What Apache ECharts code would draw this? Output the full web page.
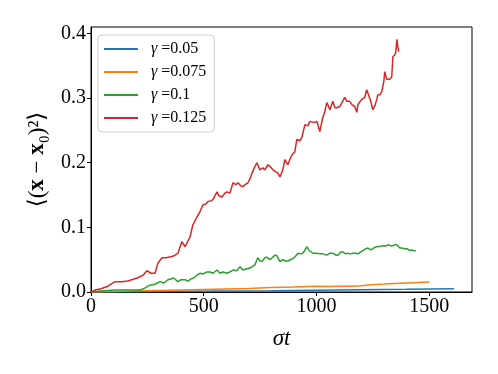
<!DOCTYPE html>
<html><head><meta charset="utf-8">
<script src="https://cdn.jsdelivr.net/npm/echarts@6/dist/echarts.min.js"></script>
<style>html,body{margin:0;padding:0;background:#fff}#c{width:498px;height:374px}</style>
</head><body><div id="c"></div>
<script>
const gammaLabels = ['0.05', '0.075', '0.1', '0.125'];
const colors = ['#1f77b4', '#ff7f0e', '#2ca02c', '#d62728'];
const xTicks = [0, 500, 1000, 1500];
const yTicks = [0, 0.1, 0.2, 0.3, 0.4];

const blueX = [0, 200, 400, 600, 800, 1000, 1200, 1400, 1610];
const blueY = [0, 0.0005, 0.001, 0.0015, 0.002, 0.0028, 0.0035, 0.0042, 0.005];

const orangeX = [0, 100, 200, 300, 400, 500, 600, 700, 800, 900, 1000, 1050, 1100, 1150, 1200, 1230, 1300, 1400, 1500];
const orangeY = [0, 0.0008, 0.0018, 0.0025, 0.0032, 0.004, 0.0048, 0.0056, 0.0068, 0.0078, 0.009, 0.0087, 0.009, 0.0089, 0.0095, 0.011, 0.0122, 0.014, 0.0155];

const greenX = [0, 40, 106, 173, 217, 239, 253, 266, 284, 306, 324, 341, 355, 364, 372, 386, 399, 417, 430, 443, 457, 470, 483, 497, 514, 528, 541, 559, 572, 585, 603, 616, 630, 647, 661, 674, 692, 705, 718, 727, 740, 749, 758, 771, 780, 794, 802, 816, 825, 838, 851, 860, 873, 891, 904, 918, 931, 940, 949, 958, 966, 971, 984, 1002, 1015, 1028, 1046, 1060, 1073, 1086, 1095, 1108, 1117, 1130, 1139, 1152, 1161, 1175, 1184, 1197, 1206, 1219, 1228, 1241, 1250, 1263, 1272, 1286, 1294, 1308, 1317, 1325, 1334, 1348, 1357, 1370, 1379, 1392, 1401, 1414, 1423, 1432, 1441];
const greenY = [0, 0.0015, 0.003, 0.003, 0.003, 0.006, 0.009, 0.011, 0.012, 0.016, 0.014, 0.019, 0.020, 0.022, 0.019, 0.016, 0.019, 0.019, 0.017, 0.020, 0.022, 0.026, 0.029, 0.028, 0.031, 0.031, 0.029, 0.034, 0.029, 0.031, 0.029, 0.031, 0.034, 0.033, 0.039, 0.034, 0.036, 0.037, 0.040, 0.042, 0.053, 0.048, 0.047, 0.053, 0.054, 0.050, 0.048, 0.057, 0.056, 0.047, 0.050, 0.048, 0.048, 0.051, 0.054, 0.060, 0.059, 0.060, 0.065, 0.070, 0.065, 0.062, 0.060, 0.060, 0.059, 0.059, 0.057, 0.060, 0.060, 0.057, 0.057, 0.062, 0.062, 0.059, 0.060, 0.059, 0.060, 0.060, 0.059, 0.062, 0.064, 0.067, 0.068, 0.065, 0.067, 0.070, 0.070, 0.071, 0.073, 0.071, 0.073, 0.070, 0.071, 0.073, 0.073, 0.068, 0.068, 0.067, 0.067, 0.064, 0.065, 0.064, 0.064];

const redX = [0, 18, 44, 75, 106, 137, 164, 191, 208, 231, 248, 266, 284, 297, 315, 332, 350, 368, 386, 403, 417, 439, 452, 470, 483, 497, 510, 519, 532, 541, 559, 567, 581, 594, 603, 616, 630, 643, 652, 665, 674, 687, 696, 705, 714, 727, 736, 749, 762, 771, 785, 794, 807, 820, 829, 838, 851, 860, 873, 882, 891, 904, 913, 926, 935, 949, 962, 971, 989, 1002, 1015, 1028, 1037, 1046, 1060, 1073, 1082, 1091, 1104, 1113, 1126, 1135, 1148, 1157, 1170, 1179, 1184, 1192, 1201, 1214, 1223, 1232, 1241, 1250, 1259, 1268, 1272, 1281, 1290, 1299, 1303, 1312, 1317, 1325, 1334, 1339, 1348, 1352, 1357, 1361, 1365];
const redY = [0, 0.003, 0.005, 0.009, 0.016, 0.016, 0.017, 0.020, 0.022, 0.026, 0.033, 0.029, 0.029, 0.045, 0.053, 0.053, 0.054, 0.056, 0.060, 0.078, 0.070, 0.085, 0.104, 0.116, 0.124, 0.135, 0.136, 0.140, 0.141, 0.143, 0.155, 0.149, 0.147, 0.153, 0.155, 0.153, 0.169, 0.166, 0.169, 0.164, 0.163, 0.167, 0.169, 0.175, 0.184, 0.194, 0.200, 0.189, 0.192, 0.189, 0.197, 0.194, 0.189, 0.186, 0.184, 0.178, 0.189, 0.205, 0.197, 0.205, 0.212, 0.217, 0.236, 0.234, 0.239, 0.259, 0.257, 0.264, 0.262, 0.264, 0.248, 0.270, 0.279, 0.293, 0.282, 0.295, 0.285, 0.285, 0.287, 0.293, 0.301, 0.295, 0.295, 0.290, 0.287, 0.278, 0.290, 0.287, 0.298, 0.301, 0.313, 0.304, 0.295, 0.282, 0.288, 0.298, 0.305, 0.305, 0.310, 0.326, 0.341, 0.329, 0.326, 0.329, 0.333, 0.364, 0.367, 0.371, 0.391, 0.380, 0.372];

const seriesX = [blueX, orangeX, greenX, redX];
const seriesY = [blueY, orangeY, greenY, redY];

const FF = '"Liberation Serif", "DejaVu Serif", serif';
const chart = echarts.init(document.getElementById('c'), null, {renderer: 'canvas'});
const option = {
  animation: false,
  backgroundColor: '#fff',
  grid: {left: 91, right: 26, top: 27, bottom: 82, show: true, borderColor: '#000', borderWidth: 1, backgroundColor: 'transparent'},
  legend: {
    orient: 'vertical', left: 98, top: 35,
    padding: [6, 8, 6, 6],
    itemWidth: 34, itemHeight: 2, itemGap: 7,
    icon: 'rect',
    borderColor: '#cccccc', borderWidth: 1, borderRadius: 4,
    backgroundColor: 'rgba(255,255,255,0.8)',
    data: gammaLabels,
    formatter: n => '{g|γ}{t| =' + n + '}',
    textStyle: {
      fontFamily: FF, fontSize: 16, color: '#000', lineHeight: 16, padding: [0, 0, 0, 8],
      rich: {
        g: {fontFamily: FF, fontStyle: 'italic', fontSize: 16, color: '#000'},
        t: {fontFamily: FF, fontSize: 16, color: '#000'}
      }
    }
  },
  xAxis: {
    type: 'value', min: 0, max: 1690,
    axisLine: {show: true, lineStyle: {color: '#000', width: 1}},
    splitLine: {show: false},
    axisTick: {show: true, customValues: xTicks, length: 4, lineStyle: {color: '#000'}},
    axisLabel: {customValues: xTicks, fontFamily: FF, fontSize: 20, color: '#000', margin: 5, formatter: v => String(v)},
    name: '{i|σt}', nameLocation: 'middle', nameGap: 35,
    nameTextStyle: {rich: {i: {fontFamily: FF, fontStyle: 'italic', fontSize: 23, color: '#000'}}}
  },
  yAxis: {
    type: 'value', min: 0, max: 0.41,
    axisLine: {show: true, lineStyle: {color: '#000', width: 1}},
    splitLine: {show: false},
    axisTick: {show: true, customValues: yTicks, length: 4, lineStyle: {color: '#000'}},
    axisLabel: {customValues: yTicks, fontFamily: FF, fontSize: 20, color: '#000', margin: 5, formatter: v => v.toFixed(1)},
    name: '{a|⟨(}{b|x}{a| − }{b|x}{a|₀)²⟩}', nameLocation: 'middle', nameGap: 42,
    nameTextStyle: {rich: {
      a: {fontFamily: FF, fontSize: 23, color: '#000'},
      b: {fontFamily: FF, fontSize: 23, fontWeight: 'bold', color: '#000'}
    }}
  },
  series: gammaLabels.map((g, k) => ({
    name: g, type: 'line', showSymbol: false, symbol: 'none',
    color: colors[k],
    lineStyle: {width: 1.5, color: colors[k]},
    data: seriesX[k].map((x, i) => [x, seriesY[k][i]])
  }))
};
chart.setOption(option);
</script></body></html>
